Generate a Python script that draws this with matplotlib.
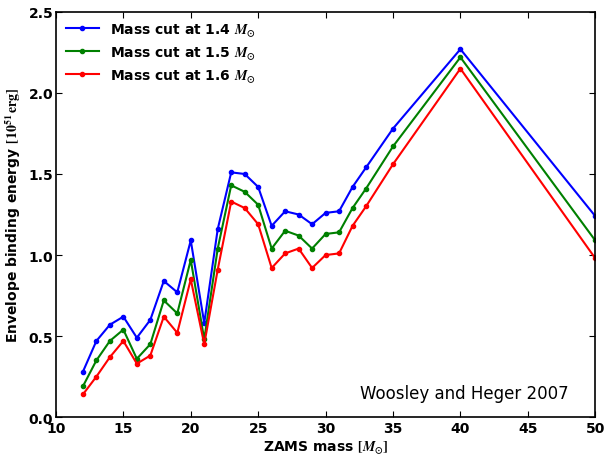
import numpy as np
import matplotlib
matplotlib.use("Agg")
import matplotlib.pyplot as plt

# ZAMS masses (solar masses)
mass = [12, 13, 14, 15, 16, 17, 18, 19, 20, 21, 22, 23, 24, 25, 26, 27,
        28, 29, 30, 31, 32, 33, 35, 40, 50]

# envelope binding energy [1e51 erg] for each mass cut
e_14 = [0.28, 0.47, 0.57, 0.62, 0.49, 0.60, 0.84, 0.77, 1.09, 0.58, 1.16, 1.51,
        1.50, 1.42, 1.18, 1.27, 1.25, 1.19, 1.26, 1.27, 1.42, 1.54, 1.78, 2.27, 1.24]
e_15 = [0.19, 0.35, 0.47, 0.54, 0.36, 0.45, 0.72, 0.64, 0.97, 0.48, 1.04, 1.43,
        1.39, 1.31, 1.04, 1.15, 1.12, 1.04, 1.13, 1.14, 1.29, 1.41, 1.67, 2.22, 1.09]
e_16 = [0.14, 0.25, 0.37, 0.47, 0.33, 0.38, 0.62, 0.52, 0.85, 0.45, 0.91, 1.33,
        1.29, 1.19, 0.92, 1.01, 1.04, 0.92, 1.00, 1.01, 1.18, 1.30, 1.56, 2.15, 0.98]

labels = [r'Mass cut at 1.4 $M_{\odot}$',
          r'Mass cut at 1.5 $M_{\odot}$',
          r'Mass cut at 1.6 $M_{\odot}$']
colors = ['#0000ff', '#008000', '#ff0000']

plt.rcParams['font.weight'] = 'bold'
plt.rcParams['axes.labelweight'] = 'bold'
plt.rcParams['mathtext.fontset'] = 'stix'
plt.rcParams['xtick.direction'] = 'in'
plt.rcParams['ytick.direction'] = 'in'
plt.rcParams['xtick.top'] = True
plt.rcParams['ytick.right'] = True

fig = plt.figure(figsize=(6.08, 4.6), dpi=100)
ax = fig.add_axes([0.092, 0.091, 0.887, 0.881])

for y, c, lab in zip([e_14, e_15, e_16], colors, labels):
    ax.plot(mass, y, '.-', color=c, lw=1.5, ms=6, label=lab)

ax.set_xlim(10, 50)
ax.set_ylim(0, 2.5)
ax.set_xticks(np.arange(10, 51, 5))
ax.set_yticks(np.arange(0, 2.51, 0.5))
ax.tick_params(labelsize=10, length=4, width=0.8, pad=3)
ax.tick_params(axis='y', pad=2)
for sp in ax.spines.values():
    sp.set_linewidth(1.2)

ax.set_xlabel(r'ZAMS mass $[M_{\odot}]$', fontsize=10, labelpad=2)
ax.set_ylabel(r'Envelope binding energy $[10^{51}\,\mathrm{erg}]$', fontsize=10, labelpad=4)

ax.legend(loc='upper left', frameon=False, fontsize=10, handlelength=2.4,
          borderaxespad=0.3, labelspacing=0.45)
ax.text(0.95, 0.06, 'Woosley and Heger 2007', transform=ax.transAxes,
        ha='right', va='center', fontsize=12, fontweight='normal')

fig.savefig('out.png', dpi=100)
